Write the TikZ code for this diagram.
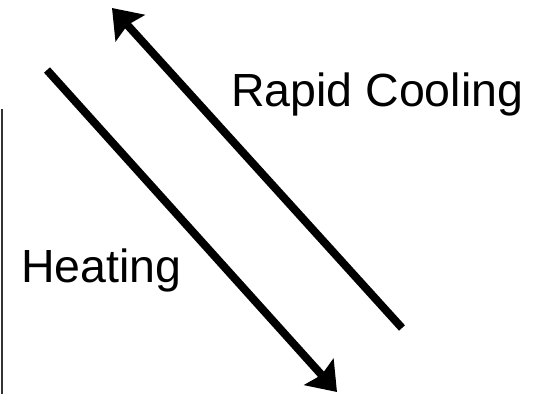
\documentclass[tikz,border=0pt]{standalone}
\usepackage{fontspec}
\setmainfont{Liberation Sans}
\usetikzlibrary{arrows.meta}

\begin{document}
\begin{tikzpicture}[x=1pt,y=-1pt,
    label text/.style={inner sep=0pt,anchor=base west,font=\fontsize{46.5}{56}\selectfont},
    thick arrow/.style={line width=8pt,-{Stealth[length=27pt,width=39pt,inset=4pt]}}]
  \useasboundingbox (0,0) rectangle (550,394);

  % --- Left border line ---
  \draw[line width=1.8pt,black!80] (2,109) -- (2,394);

  % --- Arrow end points ---
  \coordinate (heatStart) at (47,70);
  \coordinate (heatEnd) at (337,392);
  \coordinate (coolStart) at (402,328);
  \coordinate (coolEnd) at (112,8);

  % --- Labels ---
  \node[label text] (heating) at (21,282) {Heating};
  \node[label text] (cooling) at (231,106) {Rapid Cooling};

  % --- Arrows ---
  \draw[thick arrow] (heatStart) -- (heatEnd);
  \draw[thick arrow] (coolStart) -- (coolEnd);
\end{tikzpicture}
\end{document}
